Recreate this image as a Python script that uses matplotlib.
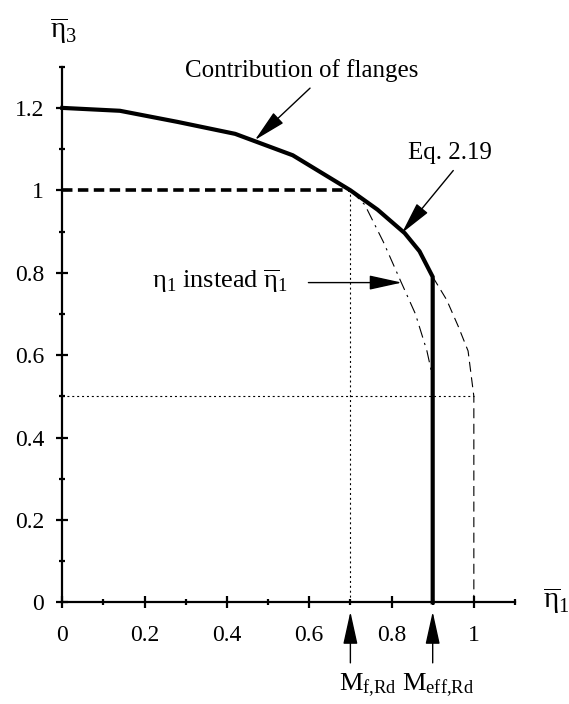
import matplotlib
matplotlib.use("Agg")
import matplotlib.pyplot as plt

plt.rcParams["font.family"] = ["Liberation Serif", "DejaVu Serif"]
plt.rcParams["mathtext.fontset"] = "custom"
plt.rcParams["mathtext.rm"] = "Liberation Serif"
plt.rcParams["mathtext.it"] = "Liberation Serif:italic"
plt.rcParams["mathtext.bf"] = "Liberation Serif:bold"

# Interaction curves (eta1_bar, eta3_bar)
flange_x = [0.0, 0.14, 0.28, 0.42, 0.56, 0.70]
flange_y = [1.20, 1.193, 1.166, 1.137, 1.085, 1.00]

eq219_x = [0.70, 0.766, 0.832, 0.868, 0.90]
eq219_y = [1.00, 0.953, 0.896, 0.852, 0.79]

eq219_ext_x = [0.90, 0.934, 0.962, 0.986, 1.00, 1.00]
eq219_ext_y = [0.79, 0.734, 0.67, 0.61, 0.50, 0.00]

eta1_x = [0.70, 0.735, 0.78, 0.822, 0.858, 0.886, 0.897, 0.90]
eta1_y = [1.00, 0.965, 0.875, 0.78, 0.70, 0.61, 0.56, 0.52]

m_f = 0.70
m_eff = 0.90
eta3_web = 0.50
eta3_f = 1.00

x_ticks = [0.0, 0.2, 0.4, 0.6, 0.8, 1.0]
x_tick_labels = ["0", "0.2", "0.4", "0.6", "0.8", "1"]
y_ticks = [0.0, 0.2, 0.4, 0.6, 0.8, 1.0, 1.2]
y_tick_labels = ["0", "0.2", "0.4", "0.6", "0.8", "1", "1.2"]

fig = plt.figure(figsize=(5.69, 7.04), dpi=100)
ax = fig.add_axes([62.3 / 569, (704 - 602.3) / 704,
                   (515 - 62.3) / 569, (602.3 - 66.7) / 704])
ax.set_xlim(0, 1.1)
ax.set_ylim(0, 1.3)

for s in ("top", "right"):
    ax.spines[s].set_visible(False)
for s in ("left", "bottom"):
    ax.spines[s].set_linewidth(1.6)

ax.set_xticks(x_ticks)
ax.set_xticklabels(x_tick_labels)
ax.set_yticks(y_ticks)
ax.set_yticklabels(y_tick_labels)
ax.set_xticks([0.1, 0.3, 0.5, 0.7, 0.9, 1.1], minor=True)
ax.set_yticks([0.1, 0.3, 0.5, 0.7, 0.9, 1.1, 1.3], minor=True)
ax.tick_params(which="major", direction="inout", length=8, width=1.6,
               labelsize=17)
ax.tick_params(which="minor", direction="inout", length=4, width=1.6)
ax.tick_params(axis="x", which="major", pad=12)
ax.tick_params(axis="y", which="major", pad=9)

# guide lines
ax.plot([m_f, m_f], [0, eta3_f], color="black", lw=0.8,
        dashes=(1.8, 2.6), clip_on=False)
ax.plot([0, 1.0], [eta3_web, eta3_web], color="black", lw=0.8,
        dashes=(1.8, 2.6), clip_on=False)

# curves
ax.plot([0, m_f], [eta3_f, eta3_f], color="black", lw=2.6,
        dashes=(2.9, 1.5), clip_on=False)
ax.plot(eq219_ext_x, eq219_ext_y, color="black", lw=0.8,
        dashes=(9, 5), clip_on=False)
ax.plot(eta1_x, eta1_y, color="black", lw=0.8,
        dashes=(11, 5, 2, 5), clip_on=False)
ax.plot(flange_x + eq219_x[1:] + [m_eff],
        flange_y + eq219_y[1:] + [0.0],
        color="black", lw=3.0, solid_joinstyle="miter", clip_on=False)

arrow = dict(arrowstyle="-|>,head_length=1.45,head_width=0.32",
             color="black", lw=1.0, mutation_scale=14, shrinkA=0, shrinkB=0)

ax.annotate("", xy=(0.468, 1.122), xytext=(0.602, 1.248),
            arrowprops=arrow, annotation_clip=False)
ax.text(0.298, 1.276, "Contribution of flanges", fontsize=18,
        ha="left", va="baseline")

ax.annotate("", xy=(0.825, 0.896), xytext=(0.950, 1.048),
            arrowprops=arrow, annotation_clip=False)
ax.text(0.841, 1.075, "Eq. 2.19", fontsize=18, ha="left", va="baseline")

ax.annotate("", xy=(0.825, 0.776), xytext=(0.598, 0.776),
            arrowprops=arrow, annotation_clip=False)
ax.text(0.217, 0.762,
        r"$\mathrm{\eta}_1$ instead $\overline{\mathrm{\eta}}_1$",
        fontsize=19, ha="left", va="baseline")

for xv, lbl, xl in ((m_f, r"M$_{\mathrm{f{,}Rd}}$", 0.672),
                    (m_eff, r"M$_{\mathrm{eff{,}Rd}}$", 0.826)):
    ax.annotate("", xy=(xv, -0.0228), xytext=(xv, -0.147),
                arrowprops=arrow, annotation_clip=False)
    ax.text(xl, -0.213, lbl, fontsize=19, ha="left", va="baseline",
            clip_on=False)

# axis titles
fig.text(50 / 569, 1 - 38 / 704, r"$\overline{\mathrm{\eta}}_3$",
         fontsize=21, ha="left", va="baseline")
fig.text(543 / 569, 1 - 608 / 704, r"$\overline{\mathrm{\eta}}_1$",
         fontsize=21, ha="left", va="baseline")

fig.savefig("out.png", dpi=100)
